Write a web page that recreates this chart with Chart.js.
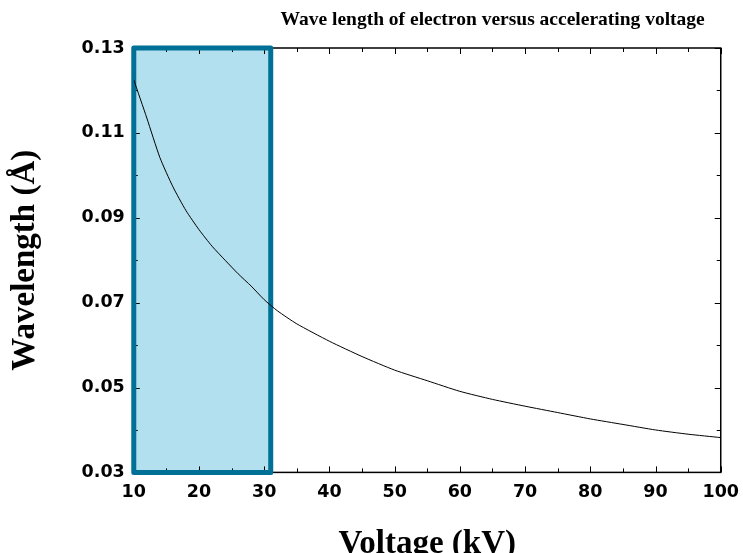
<!DOCTYPE html>
<html>
<head>
<meta charset="utf-8">
<script src="https://cdn.jsdelivr.net/npm/chart.js@4"></script>
<style>
	html, body { margin: 0; padding: 0; background: #fff; }
	#wrap { width: 743px; height: 553px; position: relative; }
</style>
</head>
<body>
<div id="wrap"><canvas id="wave-chart"></canvas></div>
<script>
// 가속전압 (kV)
var voltage = [10, 12, 14, 16, 18, 20, 22, 24, 26, 28, 30, 32, 35, 40, 45, 50, 55, 60, 65, 70, 75, 80, 85, 90, 95, 100];
// 전자 파장 (Å) - 그림에서 읽은 값
var wavelength = [0.1225, 0.1135, 0.1042, 0.0973, 0.0917, 0.0872, 0.0833, 0.0800, 0.0768, 0.0739, 0.0707,
	0.0681, 0.0650, 0.0609, 0.0573, 0.0541, 0.0516, 0.0491, 0.0472, 0.0456, 0.0441, 0.0426, 0.0413, 0.0400, 0.0390, 0.0382];
// 강조 구간 (kV)
var bandVoltage = [10, 31];

var TITLE_TEXT = 'Wave length of electron versus accelerating voltage';
var AXIS_FONT = { family: 'DejaVu Sans', size: 17.5, weight: 'bold' };

/**
 * 강조 박스 + 안쪽 눈금 그리기
 */
var framePlugin = {
	id: 'framePlugin',
	beforeDatasetsDraw: function(chart) {
		var ctx = chart.ctx;
		var area = chart.chartArea;
		var xs = chart.scales.x;
		var ys = chart.scales.y;
		var bx0 = xs.getPixelForValue(bandVoltage[0]);
		var bx1 = xs.getPixelForValue(bandVoltage[1]);
		var by0 = ys.getPixelForValue(ys.max);
		var by1 = ys.getPixelForValue(ys.min);

		ctx.save();
		// 박스 채우기
		ctx.fillStyle = 'rgb(179, 224, 238)';
		ctx.fillRect(bx0, by0, bx1 - bx0, by1 - by0);

		// 눈금
		ctx.strokeStyle = '#000';
		ctx.lineWidth = 1;
		ctx.beginPath();
		xs.ticks.forEach(function(t) {
			var px = Math.round(xs.getPixelForValue(t.value)) + 0.5;
			var len = (Math.round(t.value) % 10 === 0) ? 6 : 4;
			ctx.moveTo(px, area.bottom);
			ctx.lineTo(px, area.bottom - len);
			ctx.moveTo(px, area.top);
			ctx.lineTo(px, area.top + len);
		});
		ys.ticks.forEach(function(t) {
			var py = Math.round(ys.getPixelForValue(t.value)) + 0.5;
			var len = (Math.round(t.value * 100) % 2 === 1) ? 6 : 4;
			ctx.moveTo(area.left, py);
			ctx.lineTo(area.left + len, py);
			ctx.moveTo(area.right, py);
			ctx.lineTo(area.right - len, py);
		});
		ctx.stroke();

		// 테두리
		ctx.lineWidth = 1.5;
		ctx.strokeRect(area.left, area.top, area.right - area.left, area.bottom - area.top);

		// 박스 테두리
		ctx.strokeStyle = 'rgb(0, 112, 150)';
		ctx.lineWidth = 5;
		ctx.lineJoin = 'round';
		ctx.strokeRect(bx0, by0, bx1 - bx0, by1 - by0);
		ctx.restore();
	},
	// 제목 (차트 영역 오른쪽 기준)
	afterDraw: function(chart) {
		var ctx = chart.ctx;
		var area = chart.chartArea;
		ctx.save();
		ctx.fillStyle = '#000';
		ctx.font = 'bold 19.5px "Liberation Serif"';
		ctx.textAlign = 'right';
		ctx.textBaseline = 'middle';
		ctx.fillText(TITLE_TEXT, area.right - 16, area.top - 28);
		ctx.restore();
	}
};

var points = voltage.map(function(v, i) {
	return { x: v, y: wavelength[i] };
});

var WaveChart = new Chart(document.getElementById('wave-chart'), {
	type: 'line',
	data: {
		datasets: [{
			label: 'Wavelength',
			data: points,
			borderColor: '#000',
			borderWidth: 1,
			pointRadius: 0,
			fill: false,
			tension: 0.2
		}]
	},
	options: {
		responsive: true,
		maintainAspectRatio: false,
		animation: false,
		layout: {
			autoPadding: false,
			padding: { left: 6, right: 22, top: 48, bottom: -11 }
		},
		plugins: {
			legend: { display: false },
			tooltip: { enabled: false },
			title: { display: false }
		},
		scales: {
			x: {
				type: 'linear',
				min: 10,
				max: 100,
				// 눈금선은 투명 (라벨 간격 확보용)
				grid: { display: true, drawOnChartArea: false, drawTicks: true, tickLength: 6, tickColor: 'rgba(0,0,0,0)' },
				border: { display: false },
				ticks: {
					stepSize: 5,
					autoSkip: false,
					maxRotation: 0,
					color: '#000',
					font: AXIS_FONT,
					padding: 4,
					callback: function(v) {
						return (Math.round(v) % 10 === 0) ? String(Math.round(v)) : '';
					}
				},
				title: {
					display: true,
					text: 'Voltage (kV)',
					color: '#000',
					font: { family: 'Liberation Serif', size: 33, weight: 'bold' },
					padding: { top: 17, bottom: 0 }
				}
			},
			y: {
				min: 0.03,
				max: 0.13,
				grid: { display: false, drawTicks: false },
				border: { display: false },
				ticks: {
					stepSize: 0.01,
					autoSkip: false,
					color: '#000',
					font: AXIS_FONT,
					padding: 9,
					callback: function(v) {
						return (Math.round(v * 100) % 2 === 1) ? v.toFixed(2) : '';
					}
				},
				title: {
					display: true,
					text: 'Wavelength (Å)',
					color: '#000',
					font: { family: 'Liberation Serif', size: 33, weight: 'bold' },
					padding: { top: 0, bottom: 27 }
				}
			}
		}
	},
	plugins: [framePlugin]
});
</script>
</body>
</html>
